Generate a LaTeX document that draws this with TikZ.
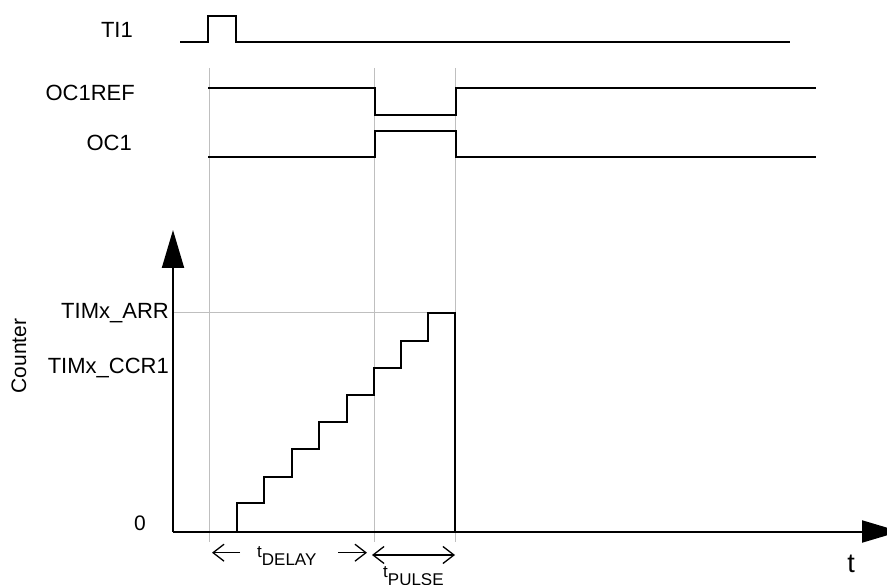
\documentclass[tikz,border=0pt]{standalone}
\usepackage{fontspec}
\setmainfont{Liberation Sans}
\usetikzlibrary{arrows.meta}
\tikzset{
  sig/.style={line width=2pt, line join=miter},
  guide/.style={line width=1pt, draw=black!25},
  axis/.style={line width=2pt, -{Triangle[length=38pt,width=22pt]}},
  dim/.style={line width=1.3pt},
  barb/.style={{Straight Barb[length=11pt,width=17pt]}},
  lbl/.style={inner sep=0pt, anchor=base east, font=\fontsize{22}{26}\selectfont},
  sublbl/.style={inner sep=0pt, anchor=base west, font=\fontsize{17}{20}\selectfont}
}
\begin{document}
\begin{tikzpicture}[x=1pt,y=-1pt]
\useasboundingbox (0,0) rectangle (887,585);
% guide lines
\coordinate (g1t) at (209,68);   \coordinate (g1b) at (209,542);
\coordinate (g2t) at (374.5,68); \coordinate (g2b) at (374.5,542);
\coordinate (g3t) at (455,68);   \coordinate (g3b) at (455,542);
\coordinate (arrL) at (173,312.7); \coordinate (arrR) at (455,312.7);
\draw[guide] (g1t) -- (g1b);
\draw[guide] (g2t) -- (g2b);
\draw[guide] (g3t) -- (g3b);
\draw[guide] (arrL) -- (arrR);
% signals
\draw[sig] (180,42.5) -- (208,42.5) -- (208,15.7) -- (236,15.7) -- (236,42.5) -- (790,42.5);
\draw[sig] (208,87.7) -- (375,87.7) -- (375,114.7) -- (456,114.7) -- (456,87.7) -- (816,87.7);
\draw[sig] (208,157) -- (375,157) -- (375,130.7) -- (456,130.7) -- (456,157) -- (816,157);
% axes
\coordinate (origin) at (173,531.5);
\coordinate (ytip) at (173,230);
\coordinate (xtip) at (900,531.5);
\draw[axis] (origin) -- (ytip);
\draw[axis] (origin) -- (xtip);
% staircase
\draw[sig] (209,531.5) -- (237,531.5) -- (237,503.3) -- (264,503.3) -- (264,476.7)
  -- (292,476.7) -- (292,449) -- (319,449) -- (319,422) -- (347,422) -- (347,395)
  -- (374,395) -- (374,368) -- (401,368) -- (401,341) -- (428,341) -- (428,313.3)
  -- (455,313.3) -- (455,531.5);
% labels
\node[lbl] (ti1) at (133,37.3) {TI1};
\node[lbl] (oc1ref) at (135,100.7) {OC1REF};
\node[lbl] (oc1) at (132,150.7) {OC1};
\node[lbl] (arr) at (169,319) {TIMx\_ARR};
\node[lbl] (ccr) at (169,374) {TIMx\_CCR1};
\node[lbl, font=\fontsize{21}{25}\selectfont] (zero) at (146,530) {0};
\node[inner sep=0pt, rotate=90, font=\fontsize{21}{25}\selectfont] (counter) at (19,356) {Counter};
\node[inner sep=0pt, anchor=base, font=\fontsize{27}{30}\selectfont] (tlbl) at (851,572) {t};
% dimension arrows
\coordinate (d1a) at (240,552.7); \coordinate (d1b) at (212,552.7);
\coordinate (d2a) at (338,552.7); \coordinate (d2b) at (367,552.7);
\coordinate (p1) at (372,555); \coordinate (p2) at (455,555);
\draw[dim, -{Straight Barb[length=11pt,width=17pt]}] (d1a) -- (d1b);
\draw[dim, -{Straight Barb[length=11pt,width=17pt]}] (d2a) -- (d2b);
\draw[dim, {Straight Barb[length=11pt,width=17pt]}-{Straight Barb[length=11pt,width=17pt]}] (p1) -- (p2);
\node[sublbl] (tdelay) at (257,557) {t\raisebox{-8pt}{DELAY}};
\node[sublbl] (tpulse) at (383,577) {t\raisebox{-8pt}{PULSE}};
\end{tikzpicture}
\end{document}
